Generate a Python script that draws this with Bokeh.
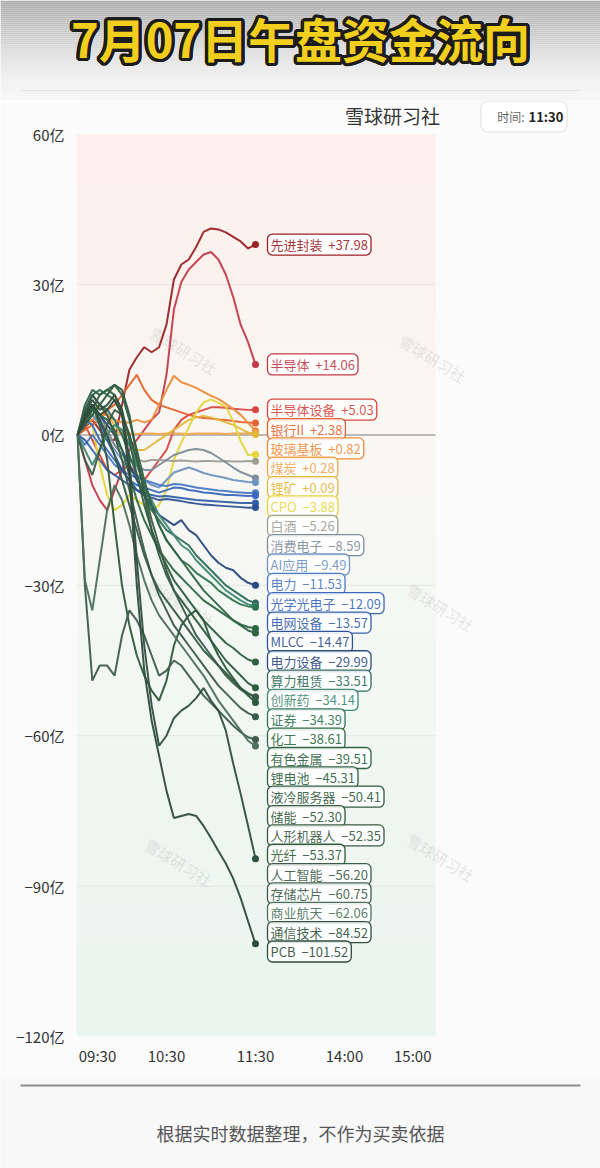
import numpy as np
from bokeh.plotting import figure
from bokeh.models import ColumnDataSource, Range1d, FixedTicker
from bokeh.layouts import column
from bokeh.core.properties import value
from bokeh.embed import file_html
from bokeh.resources import INLINE

FONT = "Noto Sans CJK SC"

# ---------------- data (亿元, minutes of trading since 09:30) ----------------
minutes = [0, 5, 10, 15, 20, 25, 30, 35, 40, 45, 50, 55, 60,
           65, 70, 75, 80, 85, 90, 95, 100, 105, 110, 115, 120]

adv_pack = [0, 1.5, 3, 1, -1, -1, 6, 13, 15.5, 17.5, 16.5, 17.5, 22, 31, 34, 35, 37.5, 40.5, 41.2, 41, 40.4, 39.5, 38.6, 37.2, 37.98]
semi = [0, -5, -10, -13, -15, -11, -7, -3, -1, 1, 3, 4.5, 12, 25, 30.5, 33, 34.5, 36, 36.5, 35, 32, 27.5, 22, 18.5, 14.06]
semi_equip = [0, 2, -1, -4, -7, -8, -7, -6, -8, -9, -7, -5, -3, 1, 3, 4, 4.5, 5, 5.5, 5.5, 5.4, 5.2, 5.1, 5.0, 5.03]
bank = [0, 1, 2, 3, 5, 6, 8, 10, 12, 9, 7, 6, 5.5, 5, 4.5, 4, 3.6, 3.4, 3.3, 3.1, 3.0, 2.8, 2.6, 2.5, 2.38]
glass = [0, 2, 3, 4, 4, 3, 2.5, 2.5, 3, 2.5, 3, 6, 9, 11.8, 10.5, 10, 9.4, 8.6, 7.8, 7.2, 6.2, 5.2, 4.0, 2.4, 0.82]
coal = [0, 2, 4, 2, 1, 0.4, 0.3, 0.3, 0.2, 0.3, 0.3, 0.2, 0.3, 0.3, 0.3, 0.2, 0.3, 0.3, 0.3, 0.3, 0.2, 0.3, 0.3, 0.3, 0.28]
lithium_ore = [0, 3, 5, 6, 4, 2, 0, -2, -3, -3, -2, -1, 0, 1, 2, 3, 3.5, 3.8, 3.5, 3.0, 2.5, 2.0, 1.2, 0.5, 0.09]
cpo = [0, 3, 2, -6, -12, -15, -14, -12, -13, -14, -15, -14, -11, -5, -1.5, 1.5, 4.5, 6.5, 7.1, 6.4, 5.6, 2.8, -1.2, -4.0, -3.88]
baijiu = [0, 2, 4, 3, 0, -2, -4, -5, -5, -5.3, -5.0, -5.0, -5.1, -5.2, -5.1, -5.2, -5.3, -5.2, -5.2, -5.3, -5.2, -5.3, -5.3, -5.2, -5.26]
consumer_elec = [0, 3, 6, 4, 1, -2, -4, -5, -6, -7, -7, -6, -5, -4, -3.5, -3, -2.8, -3, -3.6, -4.5, -5.5, -6.5, -7.4, -8.0, -8.59]
ai_app = [0, 2, 4, 2, -1, -3, -5, -7, -8, -9, -10, -10.5, -9, -7.5, -7, -6.5, -7, -7.6, -8, -8.3, -8.6, -9.0, -9.2, -9.4, -9.49]
power = [0, -2, 0, -2, -4, -6, -7, -8, -8.5, -9, -9.5, -10, -10.2, -9.8, -9.9, -10.2, -10.5, -10.7, -10.9, -11.1, -11.2, -11.4, -11.5, -11.6, -11.53]
optics = [0, 3, 2, -1, -3, -5, -7, -9, -10, -10.5, -11, -11.5, -11, -10.5, -10.6, -11, -11.2, -11.5, -11.6, -11.8, -12.0, -12.0, -12.1, -12.2, -12.09]
grid_equip = [0, -1, -3, -5, -7, -8, -9, -10, -11, -11.5, -12, -12.3, -12.2, -12.4, -12.6, -12.8, -13.0, -13.1, -13.2, -13.3, -13.4, -13.5, -13.6, -13.6, -13.57]
mlcc = [0, 4, 6, 3, -1, -4, -7, -9, -11, -12, -12.5, -13, -12.8, -13, -13.2, -13.5, -13.7, -13.9, -14.0, -14.1, -14.2, -14.3, -14.4, -14.5, -14.47]
power_equip = [0, 3, 6, 4, 2, 0, -3, -6, -9, -12, -14, -16, -17, -18, -17, -19, -20, -22, -24, -25.5, -26.5, -27, -28.5, -29.5, -29.99]
compute_lease = [0, 5, 8, 6, 5, 3, 0, -4, -8, -12, -15, -17, -19, -20, -21, -22, -24, -25.5, -27, -28.5, -30, -31, -32, -33, -33.51]
innov_drug = [0, -3, -6, -3, 0, 2, 1, -2, -6, -10, -13, -16, -18, -20, -22, -23, -25, -26.5, -28, -29.5, -31, -32, -33, -33.8, -34.14]
securities = [0, 4, 8, 9, 8, 7, 4, 0, -5, -10, -14, -18, -21, -23, -25, -26, -27.5, -28.5, -29.5, -31, -32, -33, -33.8, -34.2, -34.39]
chemicals = [0, 2, 5, 4, 3, 1, -3, -8, -13, -17, -20, -23, -25, -27, -28.5, -30, -31.5, -33, -34, -35, -36, -37, -37.8, -38.3, -38.61]
nonferrous = [0, 6, 9, 8, 9, 10, 8, 3, -3, -9, -14, -18, -21, -23, -25, -27, -29, -31, -32.5, -34, -35.5, -37, -38, -39, -39.51]
li_battery = [0, 3, 5, 8, 9, 8, 5, -1, -8, -14, -19, -23, -26, -29, -31, -33, -35, -37, -38.5, -40, -41.5, -42.5, -43.8, -44.8, -45.31]
liquid_cool = [0, 2, 4, 6, 8, 10, 9, 4, -4, -12, -19, -24, -28, -31, -33, -35, -37, -39, -41, -43, -45, -46.5, -48, -49.5, -50.41]
energy_storage = [0, 4, 6, 3, 0, -4, -9, -14, -19, -24, -28, -31, -33, -35, -37, -39, -41, -43, -44.5, -46, -47.5, -49, -50.5, -51.5, -52.30]
humanoid = [0, -5, -8, -3, 2, 5, 4, 0, -5, -11, -17, -22, -27, -31, -34, -37, -40, -42, -44, -46, -48, -49.5, -50.8, -51.7, -52.35]
fiber = [0, 3, 6, 2, -5, -18, -30, -38, -44, -48, -51, -53, -49, -42, -38, -36, -35, -37, -41, -44, -46.5, -48.5, -50.5, -52, -53.37]
ai = [0, 5, 8, 6, 4, 0, -5, -11, -17, -23, -28, -32, -35, -38, -40, -42, -44, -46, -48, -50, -51.5, -53, -54.5, -55.5, -56.20]
memory_chip = [0, -30, -49, -46, -46, -48, -40, -35, -37, -40, -44, -48, -47, -45, -46, -48, -50, -52, -53.5, -55, -56.5, -58, -59.3, -60.3, -60.75]
aerospace = [0, -29, -35, -25, -15, -10, -13, -18, -24, -29, -33, -36, -38, -40, -42, -44, -46, -48, -50.5, -53, -55, -57, -59, -61, -62.06]
telecom = [0, 4, 7, 5, 6, 8, 5, -5, -25, -42, -54, -62, -60, -56.5, -55, -54, -52.5, -50.5, -53, -55, -59, -65.6, -71.6, -78, -84.52]
pcb = [0, 3, 6, 4, 5, 7, 4, -8, -30, -47, -57, -64, -71, -76.4, -76, -75.6, -76, -78, -80.4, -83, -85.5, -88.5, -92.4, -97, -101.52]

names = ["先进封装", "半导体", "半导体设备", "银行II", "玻璃基板", "煤炭", "锂矿", "CPO", "白酒",
         "消费电子", "AI应用", "电力", "光学光电子", "电网设备", "MLCC", "电力设备", "算力租赁",
         "创新药", "证券", "化工", "有色金属", "锂电池", "液冷服务器", "储能", "人形机器人", "光纤",
         "人工智能", "存储芯片", "商业航天", "通信技术", "PCB"]
series = [adv_pack, semi, semi_equip, bank, glass, coal, lithium_ore, cpo, baijiu,
          consumer_elec, ai_app, power, optics, grid_equip, mlcc, power_equip, compute_lease,
          innov_drug, securities, chemicals, nonferrous, li_battery, liquid_cool, energy_storage,
          humanoid, fiber, ai, memory_chip, aerospace, telecom, pcb]
colors = ["#9b2227", "#c33b4b", "#d8463f", "#e3622f", "#ee8b38", "#f0a44c", "#e3b73a", "#e6d43a",
          "#9d9f93", "#7e8c99", "#6f94c1", "#4a79c3", "#3a68bd", "#3260a8", "#2e5296", "#2a4a80",
          "#2f6a5c", "#3f8a74", "#2f7452", "#2b6843", "#2e6444", "#2e5f42", "#2f5c40", "#335a42",
          "#3b5a46", "#2d5a3c", "#3c5a4a", "#3e5c4c", "#4d705c", "#30503e", "#2f4b3b"]

y_ticks = [60, 30, 0, -30, -60, -90, -120]
x_tick_labels = ["09:30", "10:30", "11:30", "14:00", "15:00"]
TITLE = "7月07日午盘资金流向"
BRAND = "雪球研习社"
TIME_LABEL = "时间:"
TIME_VALUE = "11:30"
FOOTNOTE = "根据实时数据整理，不作为买卖依据"

# ---------------- geometry ----------------
W = 600
HDR_H, MAIN_H, FTR_H = 100, 975, 93
PX_X = 1.4833        # px per trading minute
PX_Y = 5.013         # px per 亿
X0_PAGE = 77         # page x of 09:30
FRAME_LEFT = 76
FRAME_BOTTOM_PAGE = 1036
x_start = (FRAME_LEFT - X0_PAGE) / PX_X
x_end = x_start + (W - FRAME_LEFT) / PX_X
y_start = -120
y_end = y_start + (FRAME_BOTTOM_PAGE - HDR_H) / PX_Y
ZERO_PAGE = HDR_H + y_end * PX_Y
PLOT_RIGHT = (435 - X0_PAGE) / PX_X


def dx(px):
    return (px - X0_PAGE) / PX_X


def dy(py):
    return (ZERO_PAGE - py) / PX_Y


def no_align(fig):
    try:
        fig.frame_align = False
    except Exception:
        pass


# ---------------- header ----------------
hdr = figure(width=W, height=HDR_H, x_range=Range1d(0, W), y_range=Range1d(0, HDR_H),
             output_backend="svg", toolbar_location=None, x_axis_location=None,
             y_axis_location=None, min_border=0, outline_line_color=None, title=None,
             background_fill_color="#f7f7f7", border_fill_color="#f7f7f7")
hdr.grid.visible = False
no_align(hdr)
band_top = np.arange(0, HDR_H, 2)
grays = np.interp(band_top, [0, 25, 55, 80, 100], [172, 198, 226, 242, 247]).astype(int)
hdr.quad(left=0, right=W, top=HDR_H - band_top, bottom=HDR_H - band_top - 2,
         color=["#%02x%02x%02x" % (g, g, g) for g in grays], line_color=None)
angles = np.linspace(0, 2 * np.pi, 24, endpoint=False)
osrc = ColumnDataSource(dict(x=[W / 2] * len(angles), y=[HDR_H - 37] * len(angles),
                             xo=list(3.3 * np.cos(angles)), yo=list(3.3 * np.sin(angles)),
                             t=[TITLE] * len(angles)))
hdr.text(x="x", y="y", x_offset="xo", y_offset="yo", text="t", source=osrc,
         text_font=value(FONT), text_font_style="bold", text_font_size="47px",
         text_align="center", text_baseline="middle", text_color="#1c1c1c")
hdr.text(x=[W / 2], y=[HDR_H - 37], text=[TITLE], text_font=value(FONT),
         text_font_style="bold", text_font_size="47px", text_align="center",
         text_baseline="middle", text_color="#f2cf1d")
hdr.segment(x0=[20], y0=[HDR_H - 90], x1=[580], y1=[HDR_H - 90], line_color="#e4e4e4", line_width=1)

# ---------------- main chart ----------------
p = figure(width=W, height=MAIN_H, x_range=Range1d(x_start, x_end), y_range=Range1d(y_start, y_end),
           output_backend="svg", toolbar_location=None, title=None,
           min_border_left=FRAME_LEFT, min_border_right=0, min_border_top=0, min_border_bottom=39,
           background_fill_color="#fbfbfb", border_fill_color="#fbfbfb", outline_line_color=None)
p.xgrid.visible = False
p.ygrid.visible = False
no_align(p)

# plot-area gradient background
N = 180
rows = np.linspace(-120, 60, N)
stops_y = [-120, -60, 0, 30, 60]
rr = np.interp(rows, stops_y, [234, 241, 250, 251, 252])
gg = np.interp(rows, stops_y, [245, 247, 248, 243, 240])
bb = np.interp(rows, stops_y, [240, 243, 243, 239, 236])
img = np.empty((N, 1), dtype=np.uint32)
view = img.view(dtype=np.uint8).reshape((N, 1, 4))
view[:, 0, 0] = rr.astype(np.uint8)
view[:, 0, 1] = gg.astype(np.uint8)
view[:, 0, 2] = bb.astype(np.uint8)
view[:, 0, 3] = 255
p.image_rgba(image=[img], x=x_start, y=-120, dw=PLOT_RIGHT - x_start, dh=180)

grid_vals = [t for t in y_ticks if t not in (0, 60, -120)]
p.segment(x0=[x_start] * len(grid_vals), x1=[PLOT_RIGHT] * len(grid_vals), y0=grid_vals, y1=grid_vals,
          line_color="#e2e2e2", line_alpha=0.8, line_width=1)
p.segment(x0=[x_start], x1=[PLOT_RIGHT], y0=[0], y1=[0], line_color="#a4a4a4", line_width=1.4)

# watermarks
wm_px = [(183, 350), (432, 358), (440, 607), (180, 603), (440, 857), (178, 862)]
p.text(x=[dx(a) for a, b in wm_px], y=[dy(b) for a, b in wm_px], text=[BRAND] * len(wm_px),
       angle=-0.55, text_font=value(FONT), text_font_size="15px", text_color="#b8b8b8",
       text_alpha=0.35, text_align="center", text_baseline="middle")

# lines
p.multi_line(xs=[minutes] * len(series), ys=series, line_color=colors, line_width=2, line_alpha=0.95)
finals = [s[-1] for s in series]
p.scatter(x=[minutes[-1]] * len(series), y=finals, size=7, color=colors, line_color=None)

# labels, stacked to avoid overlap
GAP = 19.35 / PX_Y
label_y = []
for v in finals:
    label_y.append(v if not label_y else min(v, label_y[-1] - GAP))


def fmt(v):
    return f"{v:+.2f}".replace("-", "\u2212")


lsrc = ColumnDataSource(dict(x=[minutes[-1]] * len(series), y=label_y,
                             t=[f"{n}\u00a0\u00a0{fmt(v)}" for n, v in zip(names, finals)],
                             c=colors))
p.text(x="x", y="y", text="t", source=lsrc, x_offset=12, text_align="left", text_baseline="middle",
       text_font=value(FONT), text_font_size="13px", text_color="c", text_alpha=0.92,
       background_fill_color="white", background_fill_alpha=0.85,
       border_line_color="c", border_line_width=1.3, border_radius=5, padding=(3, 1))

# brand and time box
p.text(x=[dx(392)], y=[dy(115)], text=[BRAND], text_font=value(FONT), text_font_size="19px",
       text_color="#333333", text_align="center", text_baseline="middle")
p.text(x=[dx(523.5)], y=[dy(116)], text=[TIME_LABEL + " " + TIME_VALUE], text_font=value(FONT),
       text_font_size="13px", text_font_style="bold", text_alpha=0, text_align="center",
       text_baseline="middle", background_fill_color="white", border_line_color="#dedede",
       border_line_width=1, border_radius=7, padding=(9, 6))
p.text(x=[dx(524)], y=[dy(116)], text=[TIME_LABEL], text_font=value(FONT), text_font_size="12px",
       text_color="#666666", text_align="right", text_baseline="middle")
p.text(x=[dx(528)], y=[dy(116)], text=[TIME_VALUE], text_font=value(FONT), text_font_size="13px",
       text_font_style="bold", text_color="#222222", text_align="left", text_baseline="middle")

# axes
yax = p.yaxis[0]
yax.ticker = FixedTicker(ticks=y_ticks)
yax.major_label_overrides = {t: (f"{t}亿".replace("-", "\u2212")) for t in y_ticks}
yax.axis_line_color = None
yax.major_tick_line_color = None
yax.minor_tick_line_color = None
yax.major_label_standoff = 6
yax.major_label_text_font = FONT
yax.major_label_text_font_size = "15px"
yax.major_label_text_color = "#333333"

# first/last labels are drawn flush with the plot edges, as in the source
x_label_pos = [13.5, 60, 120, 180, 226]
xax = p.xaxis[0]
xax.ticker = FixedTicker(ticks=x_label_pos)
xax.major_label_overrides = dict(zip(x_label_pos, x_tick_labels))
xax.axis_line_color = None
xax.major_tick_line_color = None
xax.minor_tick_line_color = None
xax.major_label_standoff = 2
xax.major_label_text_font = FONT
xax.major_label_text_font_size = "15px"
xax.major_label_text_color = "#333333"

# ---------------- footer ----------------
ftr = figure(width=W, height=FTR_H, x_range=Range1d(0, W), y_range=Range1d(0, FTR_H),
             output_backend="svg", toolbar_location=None, x_axis_location=None,
             y_axis_location=None, min_border=0, outline_line_color=None, title=None,
             background_fill_color="#f8f8f8", border_fill_color="#f8f8f8")
ftr.grid.visible = False
no_align(ftr)
ftr.segment(x0=[20], y0=[FTR_H - 10], x1=[580], y1=[FTR_H - 10], line_color="#8c8c8c", line_width=2)
ftr.text(x=[W / 2], y=[FTR_H - 57], text=[FOOTNOTE], text_font=value(FONT), text_font_size="18px",
         text_color="#555555", text_align="center", text_baseline="middle")

layout = column(hdr, p, ftr, spacing=0)
open("out.html", "w").write(file_html(layout, INLINE))
